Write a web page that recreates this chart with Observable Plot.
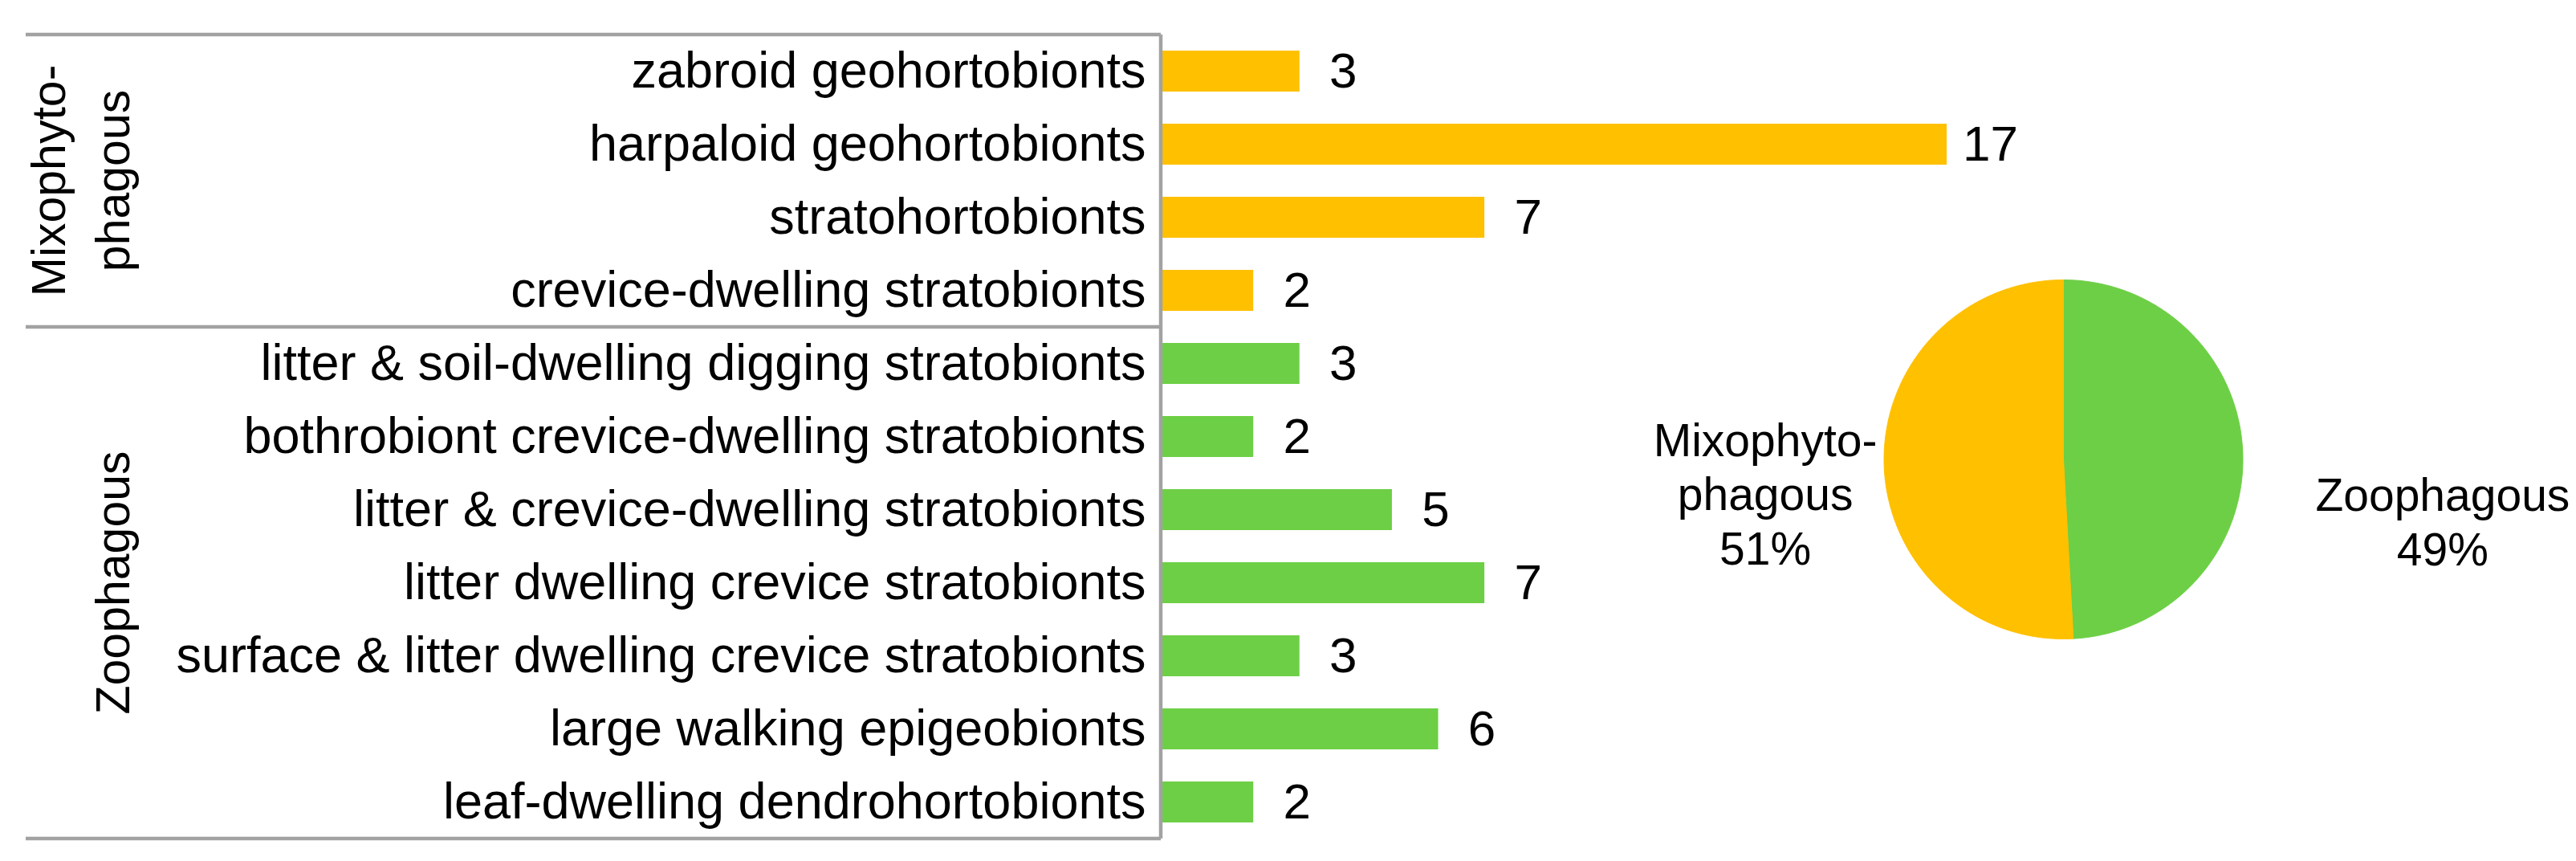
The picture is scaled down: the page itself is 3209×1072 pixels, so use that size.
<!DOCTYPE html>
<html>
<head>
<meta charset="utf-8">
<script src="https://cdn.jsdelivr.net/npm/d3@7"></script>
<script src="https://cdn.jsdelivr.net/npm/@observablehq/plot@0.6"></script>
<style>
  html, body { margin: 0; padding: 0; background: #ffffff; }
  #wrap { position: relative; width: 3209px; height: 1072px; overflow: hidden; background: #ffffff; }
  #wrap svg { position: absolute; top: 0; left: 0; overflow: visible; background: transparent !important; max-width: none !important; }
</style>
</head>
<body>
<div id="wrap"></div>
<script>
// ---------- data ----------
const categories = [
  "zabroid geohortobionts",
  "harpaloid geohortobionts",
  "stratohortobionts",
  "crevice-dwelling stratobionts",
  "litter & soil-dwelling digging stratobionts",
  "bothrobiont crevice-dwelling stratobionts",
  "litter & crevice-dwelling stratobionts",
  "litter dwelling crevice stratobionts",
  "surface & litter dwelling crevice stratobionts",
  "large walking epigeobionts",
  "leaf-dwelling dendrohortobionts"
];
const counts = [3, 17, 7, 2, 3, 2, 5, 7, 3, 6, 2];
const categoryGroup = [
  "Mixophytophagous", "Mixophytophagous", "Mixophytophagous", "Mixophytophagous",
  "Zoophagous", "Zoophagous", "Zoophagous", "Zoophagous", "Zoophagous", "Zoophagous", "Zoophagous"
];
const groups = ["Mixophytophagous", "Zoophagous"];
const groupAxisLabels = ["Mixophyto-\nphagous", "Zoophagous"];
const pieLabelNames = ["Mixophyto-\nphagous", "Zoophagous"];
const groupColors = ["#FFC000", "#6DCF45"];
const pieOrder = ["Zoophagous", "Mixophytophagous"]; // clockwise from 12 o'clock

// ---------- styles ----------
const FONT = "'Liberation Sans', Arial, Helvetica, sans-serif";
const LINE = "#a2a2a2";

const wrap = document.getElementById("wrap");
const rows = categories.map((c, i) => ({name: c, count: counts[i], group: categoryGroup[i]}));

// ---------- bar chart ----------
const BAR_W = 2700;
const bar = Plot.plot({
  width: BAR_W,
  height: 1072,
  marginTop: 38,
  marginBottom: 24,
  marginLeft: 1446,
  marginRight: 275,
  style: {fontFamily: FONT, fontSize: "63px", color: "#000", background: "transparent", overflow: "visible"},
  x: {domain: [0, d3.max(counts)], axis: null},
  y: {domain: categories, padding: 0, label: null},
  color: {domain: groups, range: groupColors},
  marks: [
    Plot.barX(rows, {x: "count", y: "name", fill: "group", insetTop: 20, insetBottom: 20}),
    Plot.text(rows, {x: "count", y: "name", text: d => String(d.count), textAnchor: "middle", dx: 54, fontSize: 62, fill: "#000"}),
    Plot.axisY({tickSize: 0, tickPadding: 19, fontSize: 63, label: null, fill: "#000"})
  ]
});
wrap.appendChild(bar);

// multi-level category axis box, placed with the plot's own scales
const ys = bar.scale("y");
const xs = bar.scale("x");
const axisX = xs.apply(0);
const spans = groups.map((g, i) => {
  const cs = categories.filter((c, j) => categoryGroup[j] === g);
  return {label: groupAxisLabels[i], y0: ys.apply(cs[0]), y1: ys.apply(cs[cs.length - 1]) + ys.bandwidth};
});
const bounds = Array.from(new Set([...spans.map(s => s.y0), ...spans.map(s => s.y1)]));
const sel = d3.select(bar);
const box = sel.append("g").attr("stroke", LINE).attr("stroke-width", 4.5).attr("fill", "none");
box.selectAll("line.h").data(bounds).join("line")
  .attr("x1", 32).attr("x2", axisX).attr("y1", d => d).attr("y2", d => d);
box.append("line")
  .attr("x1", axisX).attr("x2", axisX)
  .attr("y1", d3.min(bounds)).attr("y2", d3.max(bounds));

const glab = sel.append("g").attr("font-family", FONT).attr("font-size", 59).attr("fill", "#000").attr("text-anchor", "middle");
spans.forEach(s => {
  const lines = s.label.split("\n");
  const t = glab.append("text")
    .attr("transform", `translate(161,${(s.y0 + s.y1) / 2}) rotate(-90)`);
  lines.forEach((ln, k) => {
    t.append("tspan").attr("x", 0).attr("y", -(lines.length - 1 - k) * 80).text(ln);
  });
});

// ---------- pie chart ----------
const totals = groups.map(g => d3.sum(rows.filter(r => r.group === g), r => r.count));
const total = d3.sum(totals);
const pieData = pieOrder.map(g => {
  const i = groups.indexOf(g);
  return {group: g, value: totals[i], color: groupColors[i], label: pieLabelNames[i]};
});
const arcs = d3.pie().sort(null).value(d => d.value)(pieData);
const piePts = [];
arcs.forEach(a => {
  const g = a.data.group;
  piePts.push({group: g, x: 0, y: 0});
  const n = Math.max(2, Math.ceil((a.endAngle - a.startAngle) / (Math.PI / 360)));
  for (let k = 0; k <= n; k++) {
    const t = a.startAngle + (a.endAngle - a.startAngle) * k / n;
    piePts.push({group: g, x: Math.sin(t), y: Math.cos(t)});
  }
  piePts.push({group: g, x: 0, y: 0});
});
const labelRows = arcs.map(a => {
  const m = (a.startAngle + a.endAngle) / 2;
  return {
    group: a.data.group,
    x: Math.sin(m), y: Math.cos(m),
    text: a.data.label + "\n" + Math.round(a.data.value / total * 100) + "%"
  };
});

const pie = Plot.plot({
  width: 3209,
  height: 1072,
  style: {fontFamily: FONT, color: "#000", background: "transparent", overflow: "visible"},
  x: {domain: [-1, 1], range: [2346.5, 2793.5], axis: null},
  y: {domain: [-1, 1], range: [795, 348], axis: null},
  marks: [
    ...pieData.map(d => Plot.line(piePts, {
      filter: p => p.group === d.group, x: "x", y: "y",
      fill: d.color, stroke: d.color, strokeWidth: 1, curve: "linear"
    })),
    Plot.text(labelRows, {filter: d => d.group === "Mixophytophagous", x: "x", y: "y", text: "text",
      textAnchor: "middle", lineAnchor: "bottom", lineHeight: 1.19, fontSize: 57, fill: "#000", dx: -148, dy: 125}),
    Plot.text(labelRows, {filter: d => d.group === "Zoophagous", x: "x", y: "y", text: "text",
      textAnchor: "middle", lineAnchor: "bottom", lineHeight: 1.19, fontSize: 57, fill: "#000", dx: 249, dy: 138})
  ]
});
wrap.appendChild(pie);
</script>
</body>
</html>
